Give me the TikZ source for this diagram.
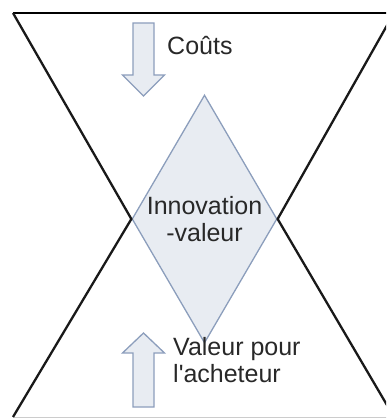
\documentclass[tikz,border=0pt]{standalone}
\usepackage{fontspec}
\setmainfont{Liberation Sans}
\usetikzlibrary{shapes.geometric}

\definecolor{boxfill}{RGB}{232,236,242}
\definecolor{boxline}{RGB}{140,158,188}
\definecolor{textgray}{RGB}{40,40,40}

\begin{document}
\begin{tikzpicture}[x=1pt, y=-1pt,
    blockarrow/.style={draw=boxline, fill=boxfill, line width=1.3pt, line join=miter},
    edgeline/.style={draw=black!90, line width=2.3pt},
    txtlabel/.style={inner sep=0pt, text=textgray, font=\fontsize{25}{27}\selectfont}]
        \useasboundingbox (0,0) rectangle (386,419);
        \clip (0,0) rectangle (386,419);

        % losange central
        \node[diamond, draw=boxline, fill=boxfill, line width=1.3pt, inner sep=0pt,
              minimum width=145pt, minimum height=248pt] (innov) at (204.5,219) {};
        \node[txtlabel, align=center] (innovtxt) at (innov.center) {Innovation\\-valeur};

        % coins du sablier
        \coordinate (topL) at (13,13);
        \coordinate (topR) at (394,13);
        \coordinate (botL) at (13,417);
        \coordinate (botR) at (394,417);

        \draw[black, line width=2.8pt] (topL) -- (topR);
        \draw[black!20, line width=0.8pt] (botL) -- (botR);
        \draw[edgeline] (topL) -- (innov.west) -- (botL);
        \draw[edgeline] (topR) -- (innov.east) -- (botR);

        % fleches
        \coordinate (coutsTip) at (143.5,96);
        \draw[blockarrow] (coutsTip) -- ++(-21,-21) -- ++(10.5,0) -- ++(0,-52)
            -- ++(21,0) -- ++(0,52) -- ++(10.5,0) -- cycle;
        \coordinate (valeurTip) at (143.5,333);
        \draw[blockarrow] (valeurTip) -- ++(-21,20) -- ++(10.5,0) -- ++(0,54)
            -- ++(21,0) -- ++(0,-54) -- ++(10.5,0) -- cycle;

        % textes
        \node[txtlabel, anchor=base west] (couts) at (167,55) {Coûts};
        \node[txtlabel, anchor=base west, align=left] (valeur) at (173,382)
            {Valeur pour\\l\textquotesingle acheteur};
    \end{tikzpicture}
\end{document}
